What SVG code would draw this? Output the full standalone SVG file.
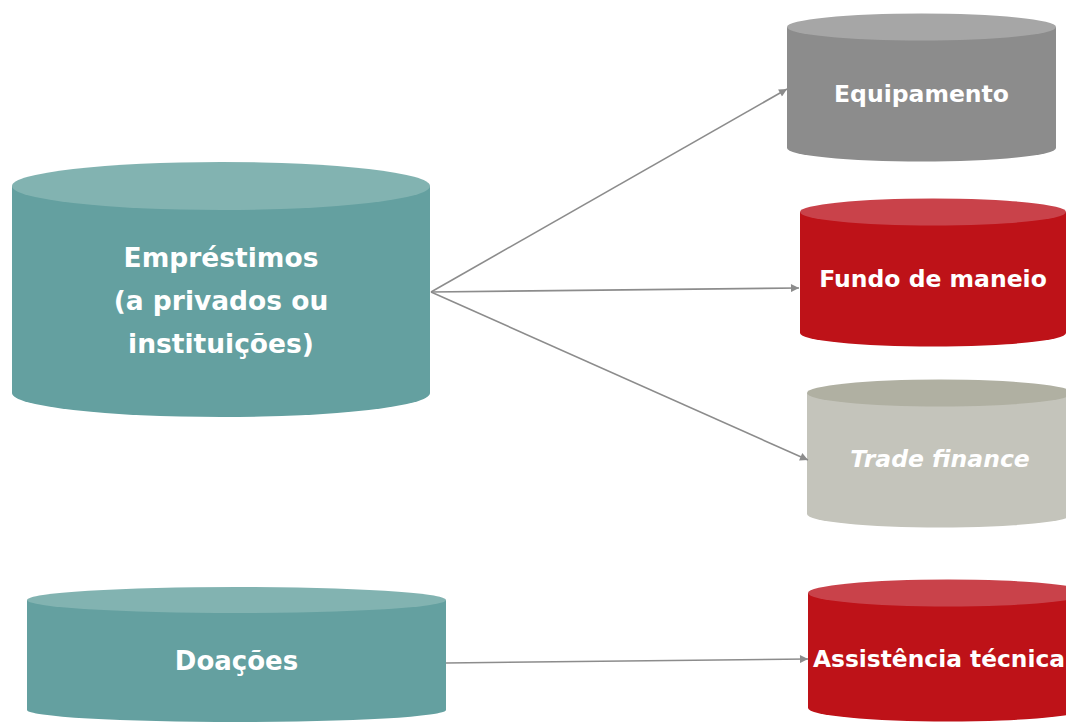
<svg xmlns="http://www.w3.org/2000/svg" width="1066" height="722" viewBox="0 0 1066 722">
<style>
.lbl{font-family:"DejaVu Sans","Verdana",sans-serif;font-weight:bold;fill:#ffffff;text-anchor:middle}
.conn{stroke:#8c8c8c;stroke-width:1.6;fill:none}
</style>
<defs>
<marker id="ah" viewBox="0 0 10 10" refX="10" refY="5" markerWidth="10" markerHeight="8" markerUnits="userSpaceOnUse" orient="auto">
<path d="M0,0 L10,5 L0,10 z" fill="#8c8c8c"/>
</marker>
</defs>
<rect width="1066" height="722" fill="#ffffff"/>
<g id="emprestimos">
<path d="M12,186 L12,393 A209,24 0 0 0 430,393 L430,186 Z" fill="#64a0a0"/>
<ellipse cx="221" cy="186" rx="209" ry="24" fill="#82b3b1"/>
<text class="lbl" font-size="26.5" x="221" y="267">Empréstimos</text>
<text class="lbl" font-size="26.5" x="221" y="310">(a privados ou</text>
<text class="lbl" font-size="26.5" x="221" y="353">instituições)</text>
</g>
<g id="doacoes">
<path d="M27,600 L27,710 A209.5,12 0 0 0 446,710 L446,600 Z" fill="#64a0a0"/>
<ellipse cx="236.5" cy="600" rx="209.5" ry="13" fill="#82b3b1"/>
<text class="lbl" font-size="26" x="236.5" y="670">Doações</text>
</g>
<g id="equipamento">
<path d="M787,27 L787,148 A134.5,13.5 0 0 0 1056,148 L1056,27 Z" fill="#8c8c8c"/>
<ellipse cx="921.5" cy="27" rx="134.5" ry="13.5" fill="#a6a6a6"/>
<text class="lbl" font-size="23.5" x="921.5" y="102">Equipamento</text>
</g>
<g id="fundo">
<path d="M800,212 L800,333 A133,13.5 0 0 0 1066,333 L1066,212 Z" fill="#be1218"/>
<ellipse cx="933" cy="212" rx="133" ry="13.5" fill="#c9424a"/>
<text class="lbl" font-size="23.5" x="933" y="287">Fundo de maneio</text>
</g>
<g id="trade">
<path d="M807,393 L807,514 A133,13.5 0 0 0 1073,514 L1073,393 Z" fill="#c4c4bb"/>
<ellipse cx="940" cy="393" rx="133" ry="13.5" fill="#b0b0a2"/>
<text class="lbl" font-size="23.5" font-style="italic" x="940" y="467">Trade finance</text>
</g>
<g id="assistencia">
<path d="M808,593 L808,708 A140,13.5 0 0 0 1088,708 L1088,593 Z" fill="#be1218"/>
<ellipse cx="948" cy="593" rx="140" ry="13.5" fill="#c9424a"/>
<text class="lbl" font-size="23.5" x="813" y="667" style="text-anchor:start" textLength="252" lengthAdjust="spacingAndGlyphs">Assistência técnica</text>
</g>
<g id="connectors">
<line class="conn" x1="431" y1="292" x2="787" y2="89" marker-end="url(#ah)"/>
<line class="conn" x1="431" y1="292" x2="799" y2="288" marker-end="url(#ah)"/>
<line class="conn" x1="431" y1="292" x2="808" y2="460" marker-end="url(#ah)"/>
<line class="conn" x1="446" y1="663" x2="808" y2="659" marker-end="url(#ah)"/>
</g>
</svg>
